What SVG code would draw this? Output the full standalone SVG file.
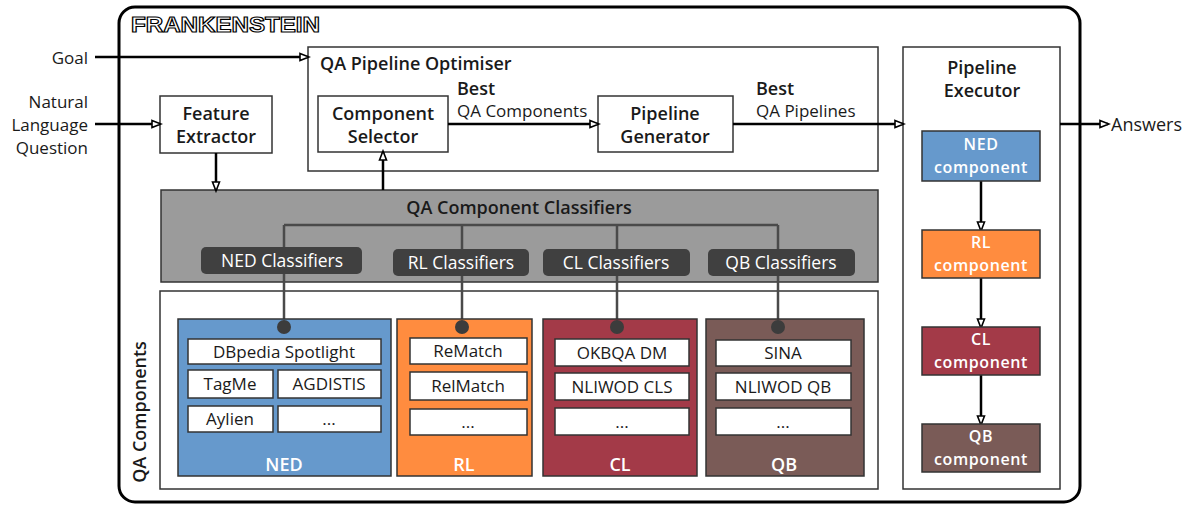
<svg xmlns="http://www.w3.org/2000/svg" width="1192" height="512" viewBox="0 0 1192 512">
<style>
text{font-family:"Open Sans","Liberation Sans",sans-serif;fill:#1a1a1a}
.b{font-weight:600;font-size:18px}
.t17{font-size:17px}
.b.t17{font-size:18px}
.pt{font-size:17.5px}
.cp{font-weight:600;font-size:16px;letter-spacing:0.6px;fill:#fff;text-anchor:middle}
.w{fill:#ffffff}
.box{fill:#ffffff;stroke:#333;stroke-width:1.5}
.ib{fill:#ffffff;stroke:#333;stroke-width:1.5}
.pill{fill:#404040}
.arr{stroke:#000;stroke-width:2.5;fill:none;marker-end:url(#ah)}
.cl{stroke:#4a4a4a;stroke-width:2.5;fill:none}
.dot{fill:#3c3c3c}
.c{text-anchor:middle}
.r{text-anchor:end}
</style>
<defs>
<marker id="ah" markerWidth="12" markerHeight="10" refX="9" refY="5" orient="auto" markerUnits="userSpaceOnUse">
<path d="M1,1.5 L10,5 L1,8.5 Z" fill="#fff" stroke="#000" stroke-width="1.6"/>
</marker>
</defs>

<rect x="119" y="7" width="961" height="495" rx="16" fill="#fff" stroke="#000" stroke-width="3"/>
<text x="131" y="32" font-size="22" font-weight="900" stroke="#000" stroke-width="1.2" textLength="189" lengthAdjust="spacingAndGlyphs" style="fill:#fff;font-family:'Liberation Sans',sans-serif">FRANKENSTEIN</text>

<g id="goal"><text x="88" y="64" class="r t17">Goal</text></g>
<g id="question">
<text x="88" y="108" class="r t17">Natural</text>
<text x="88" y="131" class="r t17">Language</text>
<text x="88" y="154" class="r t17">Question</text>
</g>

<g id="optimiser">
<rect x="308" y="47" width="570" height="124" class="box"/>
<text x="320" y="70" class="b t17">QA Pipeline Optimiser</text>
</g>
<g id="component-selector">
<rect x="318" y="96" width="130" height="56" class="box"/>
<text x="383" y="120" class="b t17 c">Component</text>
<text x="383" y="143" class="b t17 c">Selector</text>
</g>
<g id="pipeline-generator">
<rect x="598" y="96" width="135" height="56" class="box"/>
<text x="665" y="120" class="b t17 c">Pipeline</text>
<text x="665" y="143" class="b t17 c">Generator</text>
</g>
<g id="feature-extractor">
<rect x="160" y="96" width="112" height="57" class="box"/>
<text x="216" y="120" class="b t17 c">Feature</text>
<text x="216" y="143" class="b t17 c">Extractor</text>
</g>

<g id="classifiers">
<rect x="161" y="190" width="717" height="92" fill="#9b9b9b" stroke="#333" stroke-width="1.5"/>
<text x="519" y="214" class="b t17 c">QA Component Classifiers</text>
</g>

<g id="qa-components">
<rect x="160" y="291" width="718" height="198" class="box"/>
<text transform="translate(146,412) rotate(-90)" class="b t17 c">QA Components</text>
</g>

<g id="executor">
<rect x="903" y="47" width="157" height="442" class="box"/>
<text x="982" y="74" class="b t17 c">Pipeline</text>
<text x="982" y="97" class="b t17 c">Executor</text>
</g>

<g id="connectors">
<path d="M95,57 H308" class="arr"/>
<path d="M95,124 H160" class="arr"/>
<path d="M448,124 H598" class="arr"/>
<path d="M733,124 H903" class="arr"/>
<path d="M1060,124 H1108" class="arr"/>
<path d="M216,153 V190" class="arr"/>
<path d="M383,190 V152" class="arr"/>
<path d="M981,181 V230" class="arr"/>
<path d="M981,278 V327" class="arr"/>
<path d="M981,375 V424" class="arr"/>
<path d="M284,225 H778 M284,225 V327 M462,225 V327 M617,225 V327 M778,225 V327" class="cl"/>
</g>

<g id="ned-classifiers"><rect x="201" y="247" width="161" height="27" rx="5" class="pill"/><text x="282" y="267" class="pt c w">NED Classifiers</text></g>
<g id="rl-classifiers"><rect x="393" y="249" width="136" height="27" rx="5" class="pill"/><text x="461" y="269" class="pt c w">RL Classifiers</text></g>
<g id="cl-classifiers"><rect x="543" y="249" width="147" height="27" rx="5" class="pill"/><text x="616" y="269" class="pt c w">CL Classifiers</text></g>
<g id="qb-classifiers"><rect x="708" y="249" width="147" height="27" rx="5" class="pill"/><text x="781" y="269" class="pt c w">QB Classifiers</text></g>

<g id="ned">
<rect x="178" y="319" width="213" height="157" fill="#6699cc" stroke="#333" stroke-width="1.5"/>
<circle cx="284" cy="327" r="7" class="dot"/>
<rect x="188" y="339" width="193" height="25" class="ib"/><text x="284" y="358" class="t17 c">DBpedia Spotlight</text>
<rect x="188" y="370" width="85" height="28" class="ib"/><text x="230" y="390" class="t17 c">TagMe</text>
<rect x="278" y="370" width="103" height="28" class="ib"/><text x="329" y="390" class="t17 c">AGDISTIS</text>
<rect x="188" y="406" width="85" height="26" class="ib"/><text x="230" y="425" class="t17 c">Aylien</text>
<rect x="278" y="406" width="103" height="26" class="ib"/><text x="329" y="425" class="t17 c">...</text>
<text x="284" y="471" class="b t17 c w">NED</text>
</g>
<g id="rl">
<rect x="397" y="319" width="135" height="157" fill="#ff8c3f" stroke="#333" stroke-width="1.5"/>
<circle cx="462" cy="327" r="7" class="dot"/>
<rect x="410" y="338" width="117" height="26" class="ib"/><text x="468" y="357" class="t17 c">ReMatch</text>
<rect x="410" y="372" width="117" height="28" class="ib"/><text x="468" y="392" class="t17 c">RelMatch</text>
<rect x="410" y="409" width="117" height="26" class="ib"/><text x="468" y="428" class="t17 c">...</text>
<text x="464" y="471" class="b t17 c w">RL</text>
</g>
<g id="cl">
<rect x="543" y="319" width="154" height="157" fill="#a33a48" stroke="#333" stroke-width="1.5"/>
<circle cx="617" cy="327" r="7" class="dot"/>
<rect x="555" y="339" width="134" height="27" class="ib"/><text x="622" y="359" class="t17 c">OKBQA DM</text>
<rect x="555" y="373" width="134" height="27" class="ib"/><text x="622" y="393" class="t17 c">NLIWOD CLS</text>
<rect x="555" y="408" width="134" height="27" class="ib"/><text x="622" y="428" class="t17 c">...</text>
<text x="620" y="471" class="b t17 c w">CL</text>
</g>
<g id="qb">
<rect x="706" y="319" width="158" height="157" fill="#7a5b57" stroke="#333" stroke-width="1.5"/>
<circle cx="778" cy="327" r="7" class="dot"/>
<rect x="716" y="340" width="135" height="26" class="ib"/><text x="783" y="359" class="t17 c">SINA</text>
<rect x="716" y="373" width="135" height="27" class="ib"/><text x="783" y="393" class="t17 c">NLIWOD QB</text>
<rect x="716" y="408" width="135" height="27" class="ib"/><text x="783" y="428" class="t17 c">...</text>
<text x="784" y="471" class="b t17 c w">QB</text>
</g>

<g id="labels">
<text x="457" y="95" class="b t17">Best</text>
<text x="457" y="117" class="t17">QA Components</text>
<text x="756" y="95" class="b t17">Best</text>
<text x="756" y="117" class="t17">QA Pipelines</text>
<text x="1111" y="131" font-size="18">Answers</text>
</g>

<g id="ned-component"><rect x="922" y="131" width="118" height="50" fill="#6699cc" stroke="#333" stroke-width="1.5"/><text x="981" y="150" class="cp">NED</text><text x="981" y="173" class="cp">component</text></g>
<g id="rl-component"><rect x="922" y="230" width="118" height="48" fill="#ff8c3f" stroke="#333" stroke-width="1.5"/><text x="981" y="248" class="cp">RL</text><text x="981" y="271" class="cp">component</text></g>
<g id="cl-component"><rect x="922" y="327" width="118" height="48" fill="#a33a48" stroke="#333" stroke-width="1.5"/><text x="981" y="345" class="cp">CL</text><text x="981" y="368" class="cp">component</text></g>
<g id="qb-component"><rect x="922" y="424" width="118" height="48" fill="#7a5b57" stroke="#333" stroke-width="1.5"/><text x="981" y="442" class="cp">QB</text><text x="981" y="465" class="cp">component</text></g>
</svg>
